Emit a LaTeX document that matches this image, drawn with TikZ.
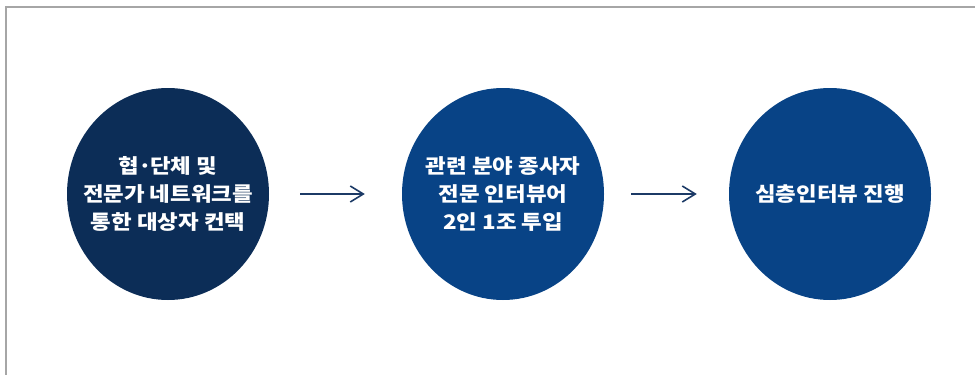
\documentclass[tikz,border=0pt]{standalone}
\usepackage{fontspec}
\usetikzlibrary{shapes.geometric,arrows.meta}
\newfontfamily\kr{Noto Sans CJK KR}[FakeStretch=1.12,BoldFeatures={FakeStretch=1.12}]
\definecolor{navyA}{HTML}{0C2D57}
\definecolor{navyB}{HTML}{084386}
\definecolor{arrowc}{HTML}{1C3A66}
\definecolor{framec}{HTML}{A6A6A6}
\begin{document}
\begin{tikzpicture}[x=1pt,y=-1pt,
  disc/.style={ellipse,minimum width=202pt,minimum height=212pt,inner sep=-40pt,
    text=white,align=center,font=\kr\bfseries\fontsize{20}{28}\selectfont},
  flow/.style={draw=arrowc,line width=1.6pt,-{Straight Barb[length=13pt,width=16pt,line width=1.6pt]}}]
\useasboundingbox (0,0) rectangle (975,375);
\draw[framec,line width=1.5pt] (975,7) -- (6,7) -- (6,375);
\node[disc,fill=navyA] (c1) at (168,194) {협\kern-0.08em·\kern-0.08em단체 및\\전문가 네트워크를\\통한 대상자 컨택};
\node[disc,fill=navyB] (c2) at (503,194) {관련 분야 종사자\\전문 인터뷰어\\2인 1조 투입};
\node[disc,fill=navyB] (c3) at (830,194) {심층인터뷰 진행};
\draw[flow,shorten <=31pt,shorten >=37pt] (c1.east) -- (c2.west);
\draw[flow,shorten <=27pt,shorten >=32pt] (c2.east) -- (c3.west);
\end{tikzpicture}
\end{document}
